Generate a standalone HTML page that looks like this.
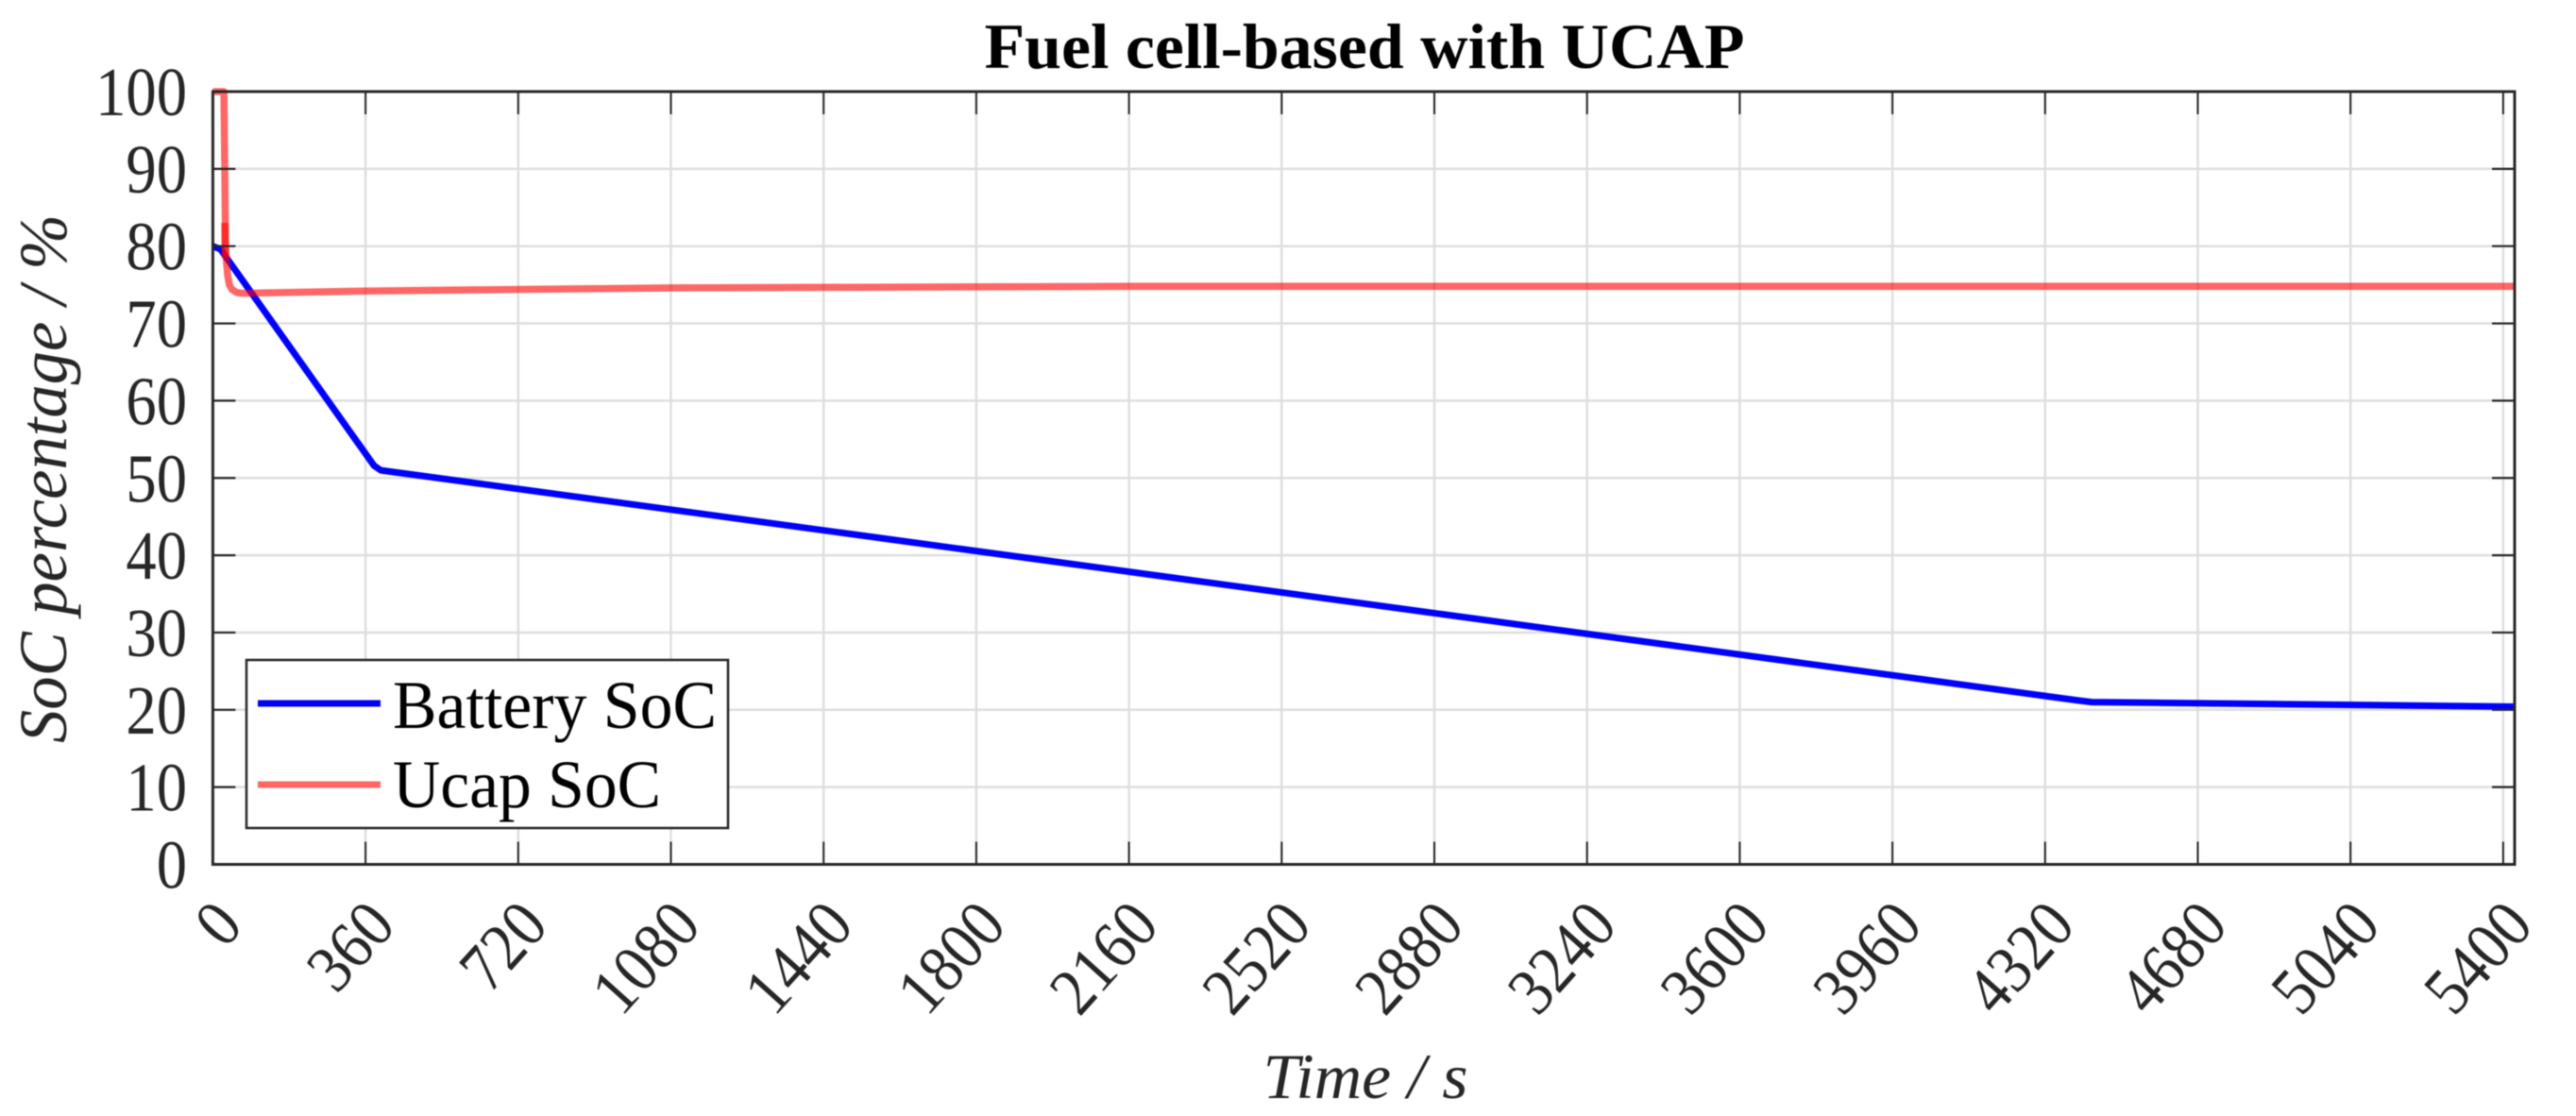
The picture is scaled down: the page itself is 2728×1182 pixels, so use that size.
<!DOCTYPE html>
<html lang="en">
<head>
<meta charset="utf-8">
<title>Fuel cell-based with UCAP</title>
<style>
html,body{margin:0;padding:0;background:#fff;}
body{width:2728px;height:1182px;overflow:hidden;}
svg{display:block;font-family:"Liberation Serif",serif;filter:blur(0.6px);}
</style>
</head>
<body>
<svg id="chart" width="2728" height="1182" viewBox="0 0 2728 1182" xmlns="http://www.w3.org/2000/svg">
  <defs><clipPath id="plot-clip"><rect x="215" y="85" width="2448" height="840"/></clipPath></defs>
  <rect x="0" y="0" width="2728" height="1182" fill="#fff"/>
  <g id="grid"></g>
  <g id="series" clip-path="url(#plot-clip)"></g>
  <g id="axes"></g>
  <g id="xlabels"></g>
  <g id="ylabels"></g>
  <text x="1445" y="72" text-anchor="middle" font-size="68" font-weight="bold" fill="#000" textLength="805" lengthAdjust="spacingAndGlyphs">Fuel cell-based with UCAP</text>
  <text x="1446" y="1163" text-anchor="middle" font-size="68" font-style="italic" fill="#262626" textLength="217" lengthAdjust="spacingAndGlyphs">Time / s</text>
  <text transform="translate(70,787) rotate(-90)" font-size="72" font-style="italic" fill="#262626" textLength="560" lengthAdjust="spacingAndGlyphs">SoC percentage / %</text>
  <g>
    <rect x="261" y="699" width="510" height="178" fill="#fff" stroke="#262626" stroke-width="2.5"/>
    <line x1="273" y1="745" x2="403" y2="745" stroke="#0000ff" stroke-width="7"/>
    <line x1="273" y1="831" x2="403" y2="831" stroke="#ff0000" stroke-opacity="0.6" stroke-width="7"/>
    <text x="416" y="771" font-size="72" fill="#000" textLength="343" lengthAdjust="spacingAndGlyphs">Battery SoC</text>
    <text x="416" y="855" font-size="72" fill="#000" textLength="284" lengthAdjust="spacingAndGlyphs">Ucap SoC</text>
  </g>
</svg>
<script>
const xTicks = [0,360,720,1080,1440,1800,2160,2520,2880,3240,3600,3960,4320,4680,5040,5400];
const yTicks = [0,10,20,30,40,50,60,70,80,90,100];
const xMax = 5428;
const batteryTimes = [0,18,380,396,4400,4430,5428];
const batteryValues = [80,79.6,51.6,51,21.2,21,20.4];
const ucapTimes = [0,26,28,30,32,35,39,45,56,70,360,1080,2160,3600,5428];
const ucapValues = [100,100,90,80,78,76.2,75,74.4,74,73.9,74.2,74.6,74.8,74.8,74.8];
const ucapOverlapTimes = [28,29];
const ucapOverlapValues = [83,78.5];

const NS = 'http://www.w3.org/2000/svg';
const L = 225.4, R = 2663, B = 915.5, T = 97;
const PXPERSEC = 161.7 / 360, PXPERUNIT = (B - T) / 100;
function xs(t){ return L + t * PXPERSEC; }
function ys(v){ return B - v * PXPERUNIT; }
function mk(parent, tag, attrs){
  const el = document.createElementNS(NS, tag);
  for (const k in attrs) el.setAttribute(k, attrs[k]);
  document.getElementById(parent).appendChild(el);
  return el;
}
function pts(ts, vs){ return ts.map(function(t, i){ return xs(t).toFixed(1) + ',' + ys(vs[i]).toFixed(1); }).join(' '); }

xTicks.forEach(function(t){
  const g = mk('grid', 'line', {x1: xs(t), x2: xs(t), y1: T, y2: B, stroke: '#dedede', 'stroke-width': 2.5});
  
  
  const b = mk('axes', 'line', {x1: xs(t), x2: xs(t), y1: B, y2: B - 24, stroke: '#262626', 'stroke-width': 2});
  
  
  const u = mk('axes', 'line', {x1: xs(t), x2: xs(t), y1: T, y2: T + 24, stroke: '#262626', 'stroke-width': 2});
  
  
  const lx = xs(t) + 34, ly = 982;
  const lab = mk('xlabels', 'text', {transform: 'translate(' + lx + ',' + ly + ') rotate(-48) scale(0.95,1.05)', 'text-anchor': 'end', 'font-size': 68, fill: '#262626'});
  
  
  lab.textContent = String(t);
});
yTicks.forEach(function(v){
  const g = mk('grid', 'line', {x1: L, x2: R, y1: ys(v), y2: ys(v), stroke: '#dedede', 'stroke-width': 2.5});
  
  
  const a = mk('axes', 'line', {x1: L, x2: L + 24, y1: ys(v), y2: ys(v), stroke: '#262626', 'stroke-width': 2.2});
  
  
  const c = mk('axes', 'line', {x1: R, x2: R - 24, y1: ys(v), y2: ys(v), stroke: '#262626', 'stroke-width': 2.2});
  
  
  const lab = mk('ylabels', 'text', {transform: 'translate(198,' + (ys(v) + 25) + ') scale(0.95,1.07)', 'text-anchor': 'end', 'font-size': 68, fill: '#262626'});
  
  
  lab.textContent = String(v);
});
const box = mk('axes', 'rect', {x: L, y: T, width: R - L, height: B - T, fill: 'none', stroke: '#262626', 'stroke-width': 3});



const bat = mk('series', 'polyline', {points: pts(batteryTimes, batteryValues), fill: 'none', stroke: '#0000ff', 'stroke-width': 7, 'stroke-linejoin': 'round'});


const uc = mk('series', 'polyline', {points: pts(ucapTimes, ucapValues), fill: 'none', stroke: '#ff0000', 'stroke-opacity': 0.6, 'stroke-width': 7.5, 'stroke-linejoin': 'round'});


const ov = mk('series', 'polyline', {points: pts(ucapOverlapTimes, ucapOverlapValues), fill: 'none', stroke: '#ff0000', 'stroke-opacity': 0.6, 'stroke-width': 7.5});


</script>
</body>
</html>
